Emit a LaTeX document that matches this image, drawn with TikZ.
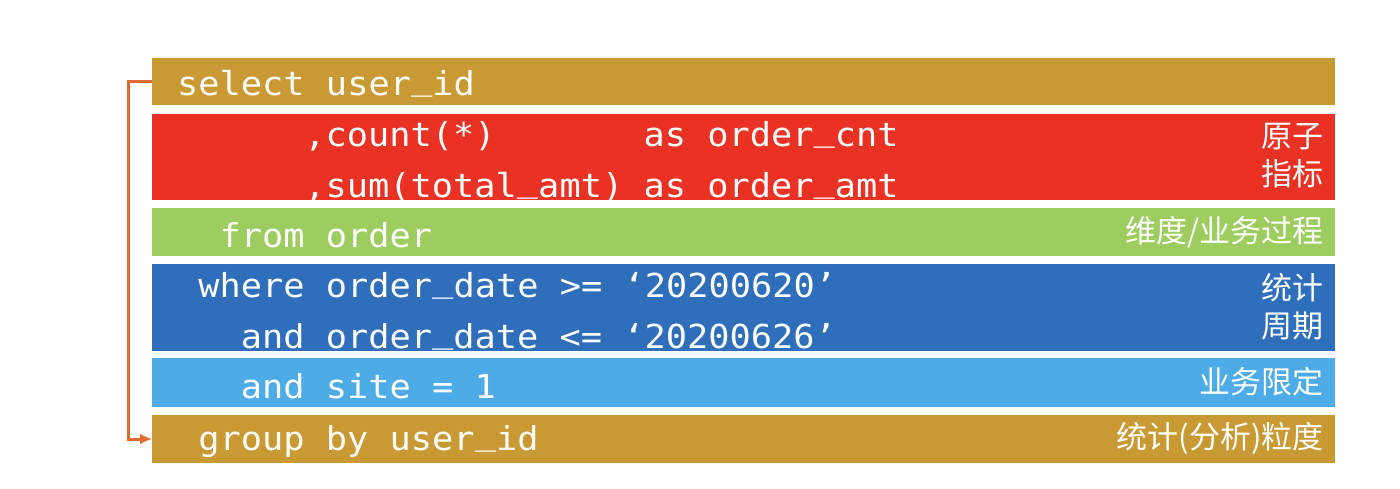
\documentclass[tikz,border=0pt]{standalone}
\usepackage{fontspec}
\usepackage{graphicx}
\usetikzlibrary{arrows.meta}
\newfontfamily\cjk{Noto Sans CJK SC}
\newfontfamily\codefont{DejaVu Sans Mono}
\definecolor{cgold}{RGB}{201,153,52}
\definecolor{cred}{RGB}{233,50,36}
\definecolor{cgreen}{RGB}{157,205,95}
\definecolor{cdblue}{RGB}{46,110,187}
\definecolor{clblue}{RGB}{77,171,232}
\definecolor{carrow}{RGB}{226,107,50}
\newcommand\codetxt[1]{\scalebox{1.07}[1]{\codefont\fontsize{33}{33}\selectfont #1}}
\newcommand\us{\raisebox{5.5pt}{\char"5F\relax}}
\tikzset{
  bar/.style={fill=#1, draw=none, anchor=north west, minimum width=1183pt, inner sep=0pt, outer sep=0pt},
  code/.style={anchor=base west, inner sep=0pt, text=white},
  lbl/.style={anchor=east, inner sep=0pt, text=white, align=right, font=\cjk\fontsize{31}{38}\selectfont},
}
\begin{document}
\begin{tikzpicture}[x=1pt,y=-1pt]
\useasboundingbox (0,0) rectangle (1400,488);
% bars
\node[bar=cgold,  minimum height=47pt] (sel)  at (152,58)  {};
\node[bar=cred,   minimum height=86pt] (agg)  at (152,114) {};
\node[bar=cgreen, minimum height=48pt] (frm)  at (152,208) {};
\node[bar=cdblue, minimum height=87pt] (whr)  at (152,264) {};
\node[bar=clblue, minimum height=49pt] (site) at (152,358) {};
\node[bar=cgold,  minimum height=48pt] (grp)  at (152,415) {};
% code text (column grid: x = 177 + n*21.2)
\node[code] (t1)  at (177,95)    {\codetxt{select user\us id}};
\node[code] (t2a) at (304.2,146) {\codetxt{,count(*)}};
\node[code] (t2b) at (643.4,146) {\codetxt{as order\us cnt}};
\node[code] (t3a) at (304.2,197) {\codetxt{,sum(total\us amt)}};
\node[code] (t3b) at (643.4,197) {\codetxt{as order\us amt}};
\node[code] (t4)  at (219.4,247) {\codetxt{from order}};
\node[code] (t5)  at (198.2,297) {\codetxt{where order\us date >= ‘20200620’}};
\node[code] (t6)  at (240.6,348) {\codetxt{and order\us date <= ‘20200626’}};
\node[code] (t7)  at (240.6,398) {\codetxt{and site = 1}};
\node[code] (t8)  at (198.2,450) {\codetxt{group by user\us id}};
% labels
\node[lbl] (l1) at (1324,156) {原子\\指标};
\node[lbl] (l2) at (1324,232) {维度/业务过程};
\node[lbl] (l3) at (1324,307) {统计\\周期};
\node[lbl] (l4) at (1324,382) {业务限定};
\node[lbl] (l5) at (1324,438) {统计(分析)粒度};
% arrow
\draw[carrow, line width=3pt, -{Latex[length=12pt,width=11pt]}]
  (sel.west) -- ++(-24,0) |- (grp.west);
\end{tikzpicture}
\end{document}
